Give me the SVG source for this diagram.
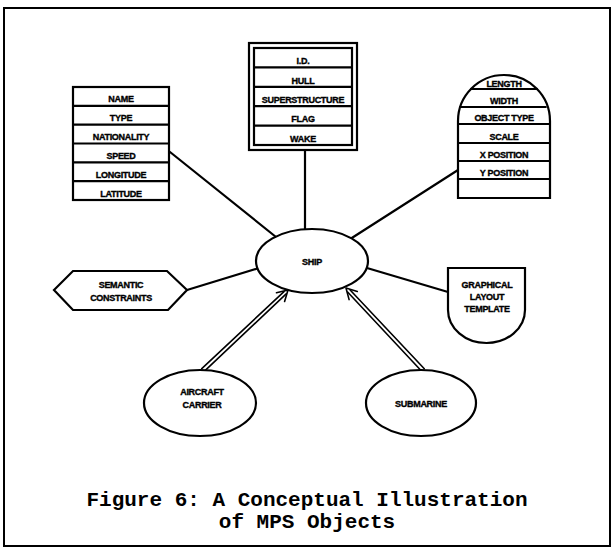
<svg xmlns="http://www.w3.org/2000/svg" width="613" height="549" viewBox="0 0 613 549">
<style>
.s{fill:none;stroke:#000;stroke-width:2.2;stroke-linejoin:round;stroke-linecap:round}
.w{fill:#fff;stroke:#000;stroke-width:2.2}
.t{font-family:"Liberation Sans",Arial,sans-serif;font-weight:bold;font-size:9px;text-anchor:middle;fill:#000;stroke:#000;stroke-width:0.35;letter-spacing:-0.3px}
.c{font-family:"Liberation Mono","Courier New",monospace;font-weight:bold;font-size:21px;text-anchor:middle;fill:#000}
</style>
<rect x="4" y="8" width="606" height="538" fill="#fff" stroke="#000" stroke-width="2"/>
<g id="connectors" class="s">
<line x1="170" y1="152" x2="276" y2="237"/>
<line x1="305" y1="150" x2="305" y2="229"/>
<line x1="458" y1="170" x2="351" y2="238.5"/>
<line x1="187" y1="290" x2="259" y2="268"/>
<line x1="367" y1="268" x2="448" y2="292"/>
<g stroke-width="1.6">
<line x1="204.23" y1="371.31" x2="286.19" y2="293.9"/>
<line x1="201.77" y1="368.69" x2="283.99" y2="291.57"/>
<polyline points="284.6,301.5 288,290 276.5,292.8"/>
<line x1="424.31" y1="368.77" x2="349.9" y2="289.82"/>
<line x1="421.69" y1="371.23" x2="347.57" y2="292.01"/>
<polyline points="357.3,291.5 346,288 349.1,299.6"/>
</g>
</g>
<g id="ship">
<ellipse class="w" cx="312" cy="261" rx="56" ry="32"/>
<text class="t" x="312" y="265">SHIP</text>
</g>
<g id="attributes">
<rect class="w" x="73" y="87" width="96" height="113"/>
<g class="s"><path d="M73 105.8H169M73 124.7H169M73 143.5H169M73 162.3H169M73 181.2H169"/></g>
<text class="t" x="121" y="102">NAME</text>
<text class="t" x="121" y="121">TYPE</text>
<text class="t" x="121" y="140">NATIONALITY</text>
<text class="t" x="121" y="158.5">SPEED</text>
<text class="t" x="121" y="177.5">LONGITUDE</text>
<text class="t" x="121" y="196.5">LATITUDE</text>
</g>
<g id="components">
<rect class="w" x="249" y="43" width="108" height="107" stroke-width="2.5"/>
<rect class="w" x="254" y="48" width="98" height="97"/>
<g class="s"><path d="M254 67.4H352M254 86.8H352M254 106.2H352M254 125.6H352"/></g>
<text class="t" x="303" y="64">I.D.</text>
<text class="t" x="303" y="83.5">HULL</text>
<text class="t" x="303" y="103">SUPERSTRUCTURE</text>
<text class="t" x="303" y="122">FLAG</text>
<text class="t" x="303" y="141.5">WAKE</text>
</g>
<g id="graphics">
<path class="w" d="M458 198V121A46 46 0 0 1 550 121V198Z"/>
<g class="s"><path d="M471 89H537M460.2 107H545.8M458 124H550M458 143H550M458 161H550M458 179H550"/></g>
<text class="t" x="504" y="87">LENGTH</text>
<text class="t" x="504" y="104">WIDTH</text>
<text class="t" x="504" y="121">OBJECT TYPE</text>
<text class="t" x="504" y="140">SCALE</text>
<text class="t" x="504" y="158">X POSITION</text>
<text class="t" x="504" y="176">Y POSITION</text>
</g>
<g id="semantic">
<polygon class="w" points="54,290 73,271 167,271 187,290 168,310 73,310"/>
<text class="t" x="121" y="288">SEMANTIC</text>
<text class="t" x="121" y="301">CONSTRAINTS</text>
</g>
<g id="layout">
<path class="w" d="M448 268H525V310A38.5 33 0 0 1 448 310Z"/>
<text class="t" x="487" y="288">GRAPHICAL</text>
<text class="t" x="487" y="300">LAYOUT</text>
<text class="t" x="487" y="312">TEMPLATE</text>
</g>
<g id="carrier">
<ellipse class="w" cx="200" cy="403" rx="56" ry="33"/>
<text class="t" x="202" y="395">AIRCRAFT</text>
<text class="t" x="202" y="408">CARRIER</text>
</g>
<g id="submarine">
<ellipse class="w" cx="421" cy="403" rx="55" ry="33"/>
<text class="t" x="421" y="407">SUBMARINE</text>
</g>
<g id="caption">
<text class="c" x="307" y="506">Figure 6: A Conceptual Illustration</text>
<text class="c" x="307" y="528">of MPS Objects</text>
</g>
</svg>
